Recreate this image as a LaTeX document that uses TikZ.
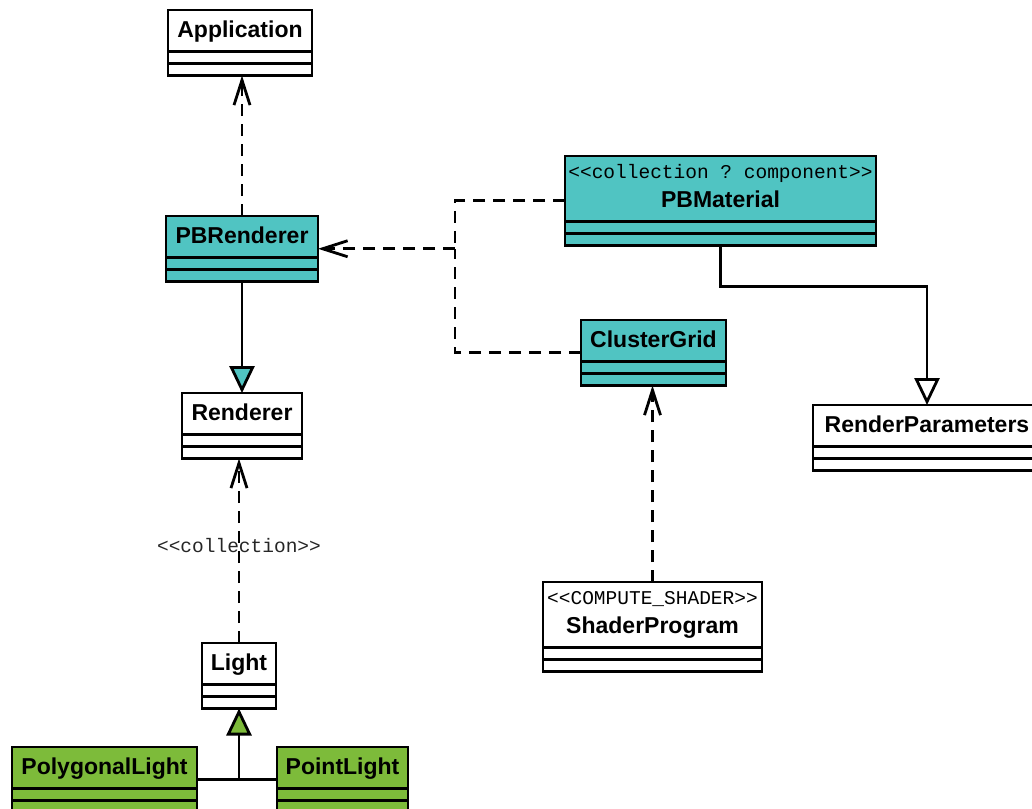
\documentclass[tikz,border=0pt]{standalone}
\usepackage{fontspec}
\setmainfont{Liberation Sans}
\setmonofont{Liberation Mono}
\usetikzlibrary{arrows.meta,shapes.multipart}

\definecolor{pbteal}{RGB}{80,196,194}
\definecolor{lightgreen}{RGB}{125,187,58}

\newcommand{\stereofont}{\fontsize{19.5}{23}\selectfont\mdseries\ttfamily}
\newcommand{\clsname}[1]{\rule[-12.2pt]{0pt}{38.7pt}#1}
\newcommand{\clsstereo}[2]{\rule{0pt}{21.5pt}{\stereofont #1}\\\rule[-12.2pt]{0pt}{12.2pt}#2}

\tikzset{
  umlclass/.style={draw, line width=2.8pt, fill=white, rectangle split, rectangle split parts=3,
    rectangle split empty part height=9.2pt, rectangle split empty part depth=0pt,
    inner xsep=2pt, inner ysep=0pt, outer sep=0pt, anchor=north, align=center,
    font=\fontsize{23}{29}\selectfont\bfseries},
  stereolabel/.style={font=\stereofont, text=black!85, inner sep=0pt},
  solidline/.style={line width=2.8pt},
  depline/.style={line width=2.8pt, dash pattern=on 12pt off 8pt},
  depend/.style={depline, -{Straight Barb[length=25pt,width=16pt]}},
  inherit/.style={solidline, -{Triangle[length=27pt,width=25pt,fill=#1]}}
}

\begin{document}
\begin{tikzpicture}[x=1pt,y=-1pt]
\useasboundingbox (0,0) rectangle (1032,808);
% classes
\node[umlclass, minimum width=144pt] (app) at (240,10) {\clsname{Application}};
\node[umlclass, fill=pbteal, minimum width=152pt] (pbr) at (242,216) {\clsname{PBRenderer}};
\node[umlclass, minimum width=120pt] (rend) at (242,393) {\clsname{Renderer}};
\node[umlclass, minimum width=74pt] (light) at (239,643) {\clsname{Light}};
\node[umlclass, fill=lightgreen, minimum width=185pt] (poly) at (104.5,747) {\clsname{PolygonalLight}};
\node[umlclass, fill=lightgreen, minimum width=131pt] (point) at (342.5,747) {\clsname{PointLight}};
\node[umlclass, fill=pbteal, minimum width=311pt] (mat) at (720.5,156) {\clsstereo{<<collection ? component>>}{PBMaterial}};
\node[umlclass, fill=pbteal, minimum width=145pt] (grid) at (653.5,320) {\clsname{ClusterGrid}};
\node[umlclass, minimum width=228pt] (param) at (927,405) {\clsname{RenderParameters}};
\node[umlclass, minimum width=219pt] (shader) at (652.5,582) {\clsstereo{<<COMPUTE\_SHADER>>}{ShaderProgram}};
% connectors
\draw[depend] (pbr.north) -- (pbr.north |- app.south);
\draw[inherit=pbteal] (pbr.south) -- (pbr.south |- rend.north);
\draw[depend] (light.north) -- node[stereolabel, pos=0.53] {<<collection>>} (light.north |- rend.south);
\coordinate (lightjoin) at (light.south |- poly.east);
\draw[solidline] (poly.east) -- (point.west);
\draw[inherit=lightgreen] (lightjoin) -- (light.south);
\coordinate (bus) at (455,0 |- pbr.east);
\draw[depline] (mat.west) -| (bus);
\draw[depline] (grid.west) -| (bus);
\draw[depend] (bus) -- (pbr.east);
\draw[inherit=white] (mat.south) -- ++(0,41) -| (param.north);
\draw[depend] (shader.north) -- (shader.north |- grid.south);
\end{tikzpicture}
\end{document}
